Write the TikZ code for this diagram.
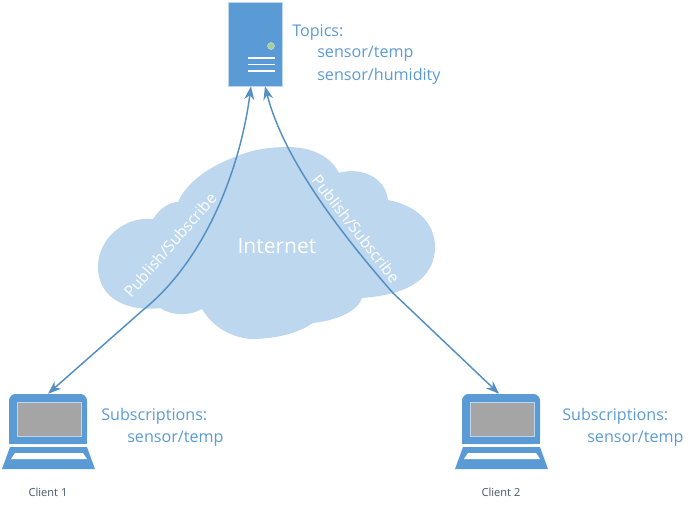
\documentclass[tikz,border=0pt]{standalone}
\usepackage{fontspec}
\setmainfont{Open Sans}
\definecolor{bleu}{HTML}{5B9BD5}
\definecolor{nuage}{HTML}{BDD7EE}
\definecolor{ecran}{HTML}{A5A5A5}
\definecolor{voyant}{HTML}{A9D18E}
\definecolor{encre}{HTML}{44546A}
\tikzset{
  lien/.style={draw=bleu!92!black, fill=bleu!92!black, line width=1.1pt, <->, >={Stealth[length=10pt,width=7.5pt]}},
  bleutxt/.style={text=bleu, font=\fontsize{12.1}{14}\selectfont, anchor=west, inner sep=0pt},
  blanctxt/.style={text=white, font=\fontsize{11.8}{14}\selectfont, inner sep=0pt},
  clienttxt/.style={text=encre, font=\fontsize{8.3}{10}\selectfont, inner sep=0pt}
}
\usetikzlibrary{arrows.meta}
\begin{document}
\begin{tikzpicture}[x=0.75pt,y=-0.75pt]
\useasboundingbox (0,0) rectangle (695,507);
% nuage
\fill [nuage] (240,155) .. controls (255,149) and (272,147) .. (287,147)
  .. controls (310,147) and (330,155) .. (339,173)
  .. controls (358,167) and (385,175) .. (388,200)
  .. controls (415,205) and (435,222) .. (435,247)
  .. controls (435,280) and (405,295) .. (362,298)
  .. controls (358,310) and (340,320) .. (313,323)
  .. controls (295,335) and (272,339) .. (250,339)
  .. controls (230,337) and (212,326) .. (202,309)
  .. controls (190,316) and (172,316) .. (160,308)
  .. controls (130,312) and (98,300) .. (98,267)
  .. controls (98,238) and (125,216) .. (153,219)
  .. controls (160,208) and (170,202) .. (178,202)
  .. controls (188,180) and (212,165) .. (240,155) -- cycle;
\node [text=white, font=\fontsize{15.8}{18}\selectfont, inner sep=0pt] (internet) at (277,246) {Internet};
% serveur
\node [fill=bleu, draw=nuage, line width=0.5pt, minimum width=54*0.75pt, minimum height=84*0.75pt, inner sep=0pt] (serveur) at (255,44) {};
\fill [voyant, draw=nuage, line width=0.4pt] (271,46) circle (3.5);
\draw [white, line width=1.2pt] (248,58) -- (275,58) (248,64.5) -- (275,64.5) (248,71) -- (275,71);
\node [bleutxt] (topics) at (292,33) {Topics:};
\node [bleutxt] (temp) at (317,54) {sensor/temp};
\node [bleutxt] (humidity) at (317,76) {sensor/humidity};
% clients
\foreach \x/\n in {0/1,453/2}{
  \node [fill=bleu, rounded corners=5pt, minimum width=78*0.75pt, minimum height=50*0.75pt, inner sep=0pt] (client\n) at (48+\x,419) {};
  \fill [bleu] (9+\x,430) rectangle (87+\x,444);
  \fill [ecran, draw=nuage, line width=0.6pt] (17+\x,402) rectangle (81+\x,436);
  \fill [bleu] (10+\x,447) -- (87+\x,447) -- (95+\x,469) -- (2+\x,469) -- cycle;
  \fill [white] (15+\x,453) -- (83+\x,453) -- (87+\x,459) -- (11+\x,459) -- cycle;
  \node [clienttxt] (nom\n) at (48+\x,492) {Client \n};
}
\node [bleutxt] (sub1) at (101,416) {Subscriptions:};
\node [bleutxt] (tmp1) at (127,439) {sensor/temp};
\node [bleutxt] (sub2) at (562,416) {Subscriptions:};
\node [bleutxt] (tmp2) at (587,439) {sensor/temp};
% liens
\draw [lien, fill=none] ([xshift=-3pt]serveur.south) .. controls (240,170) and (205,260) .. (143,310) -- (client1.north);
\draw [lien, fill=none] ([xshift=7.5pt]serveur.south) .. controls (280,145) and (320,210) .. (393,293) -- ([xshift=-1.5pt]client2.north);
\node [blanctxt, rotate=49] (pub1) at (170,245) {Publish/Subscribe};
\node [blanctxt, rotate=-52] (pub2) at (356,229) {Publish/Subscribe};
\end{tikzpicture}
\end{document}
